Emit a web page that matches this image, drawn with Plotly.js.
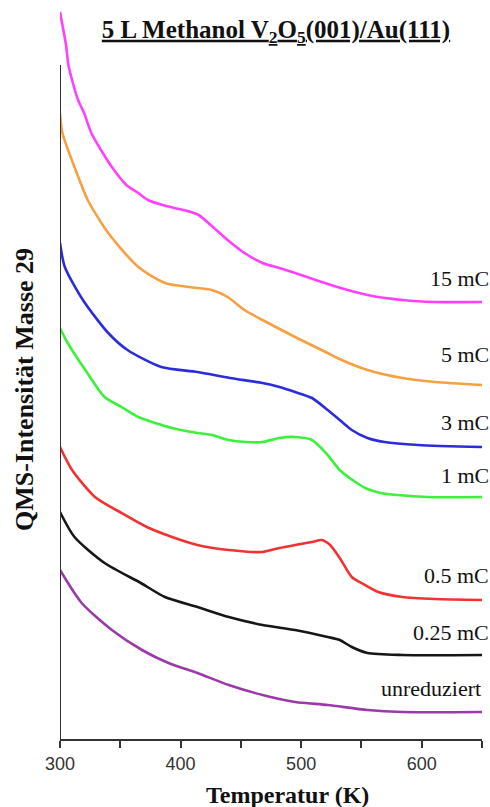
<!DOCTYPE html>
<html>
<head>
<meta charset="utf-8">
<script src="https://cdn.plot.ly/plotly-3.0.1.min.js"></script>
<style>html,body{margin:0;padding:0;background:#fff;}#chart{width:490px;height:807px;}</style>
</head>
<body>
<div id="chart"></div>
<script>
// Temperatures (K) and QMS intensities (arbitrary units, offset spectra)
const T_15mC = [300,302,305,307,310,315,320,326,335,343,355,365,373,385,395,406,415,425,439,453,468,482,495,512,530,555,584,611,650];
const I_15mC = [727,714,694,674,659,639,626,606,587,572,554,546,539,534,531,528,524,514,499,486,476,471,466,459,452,444,439,437,437];

const T_5mC = [300,302,312,323,340,365,387,414,426,439,453,468,495,522,530,555,584,611,650];
const I_5mC = [626,606,572,539,506,472,456,451,449,442,429,419,402,386,381,369,361,357,354];

const T_3mC = [300,304,319,340,356,384,414,441,468,482,495,509,522,532,542,555,569,597,650];
const I_3mC = [496,472,439,406,389,372,367,361,356,352,347,341,329,319,309,301,297,294,292];

const T_1mC = [300,305,311,321,337,351,365,379,393,414,426,440,454,468,482,495,509,522,532,545,555,566,580,605,650];
const I_1mC = [411,399,387,369,342,332,322,316,311,306,304,299,297,297,301,302,299,284,269,257,250,246,244,242,242];

const T_05mC = [300,310,329,351,372,393,414,440,468,482,495,509,517,524,532,542,550,564,584,611,650];
const I_05mC = [292,269,242,226,212,202,194,189,187,191,194,197,199,194,181,162,156,147,142,140,139];

const T_025mC = [300,312,337,367,387,414,440,468,495,522,532,542,555,584,650];
const I_025mC = [227,202,176,156,142,132,122,114,109,102,99,92,86,84,84];

const T_unred = [300,318,343,368,390,414,440,468,495,522,555,584,650];
const I_unred = [169,136,109,89,76,66,54,44,37,34,29,27,27];

const seriesNames = ['15 mC','5 mC','3 mC','1 mC','0.5 mC','0.25 mC','unreduziert'];
const seriesColors = ['#ff40ff','#f5a042','#2c2cdc','#3cf03c','#f03232','#161616','#9a3aa8'];
const seriesT = [T_15mC,T_5mC,T_3mC,T_1mC,T_05mC,T_025mC,T_unred];
const seriesI = [I_15mC,I_5mC,I_3mC,I_1mC,I_05mC,I_025mC,I_unred];
// label vertical positions (intensity units) and right edges (paper)
const labelY = [461,385,317,264,164,107,51];
const labelX = [1.022,1.022,1.022,1.022,1.022,1.022,1.003];

const SERIF = 'Liberation Serif, Times New Roman, serif';
const SANS = 'Liberation Sans, Arial, sans-serif';

const traces = seriesT.map((t,i)=>({
  x: t, y: seriesI[i], type:'scatter', mode:'lines', name: seriesNames[i],
  line:{color: seriesColors[i], width:2.6, shape:'spline', smoothing:0.7}, hoverinfo:'skip'
}));

const annotations = seriesNames.map((n,i)=>({
  text:n, xref:'paper', yref:'y', x:labelX[i], y:labelY[i], xanchor:'right', yanchor:'middle',
  showarrow:false, font:{family:SERIF, size:22, color:'#111'}
}));
annotations.push({
  text:'<b>Temperatur (K)</b>', xref:'paper', yref:'paper', x:(287-60)/422, y:-0.076, xanchor:'center', yanchor:'middle',
  showarrow:false, font:{family:SERIF, size:24, color:'#111'}
});
annotations.push({
  text:'<b>QMS-Intensität Masse 29</b>', xref:'paper', yref:'paper', x:(24-60)/422, y:(739-390)/731, xanchor:'center', yanchor:'middle',
  textangle:-90, showarrow:false, font:{family:SERIF, size:26, color:'#111'}
});

const layout = {
  width:490, height:807,
  margin:{l:60, r:8, t:8, b:68, pad:0},
  paper_bgcolor:'#fff', plot_bgcolor:'#fff',
  showlegend:false,
  font:{family:SERIF},
  title:{text:'<u><b>5 L Methanol V<sub>2</sub>O<sub>5</sub>(001)/Au(111)</b></u>', xref:'container', yref:'container',
    x:276/490, y:1-29/807, xanchor:'center', yanchor:'middle',
    font:{family:SERIF, size:25, color:'#111'}},
  xaxis:{range:[300,650], tickmode:'linear', tick0:300, dtick:100,
    showline:true, linecolor:'#333', linewidth:2, ticks:'outside', ticklen:7, tickwidth:2, tickcolor:'#333',
    minor:{tickmode:'linear', tick0:300, dtick:50, ticks:'outside', ticklen:7, tickwidth:2, tickcolor:'#333', showgrid:false},
    showgrid:false, zeroline:false, fixedrange:true,
    tickfont:{family:SANS, size:18, color:'#333'}},
  yaxis:{range:[0,731], visible:false, showgrid:false, zeroline:false, fixedrange:true},
  shapes:[{type:'line', xref:'x', yref:'y', x0:300, x1:300, y0:0, y1:674, line:{color:'#333', width:2}}],
  annotations: annotations
};

Plotly.newPlot('chart', traces, layout, {staticPlot:true, displayModeBar:false});
</script>
</body>
</html>
